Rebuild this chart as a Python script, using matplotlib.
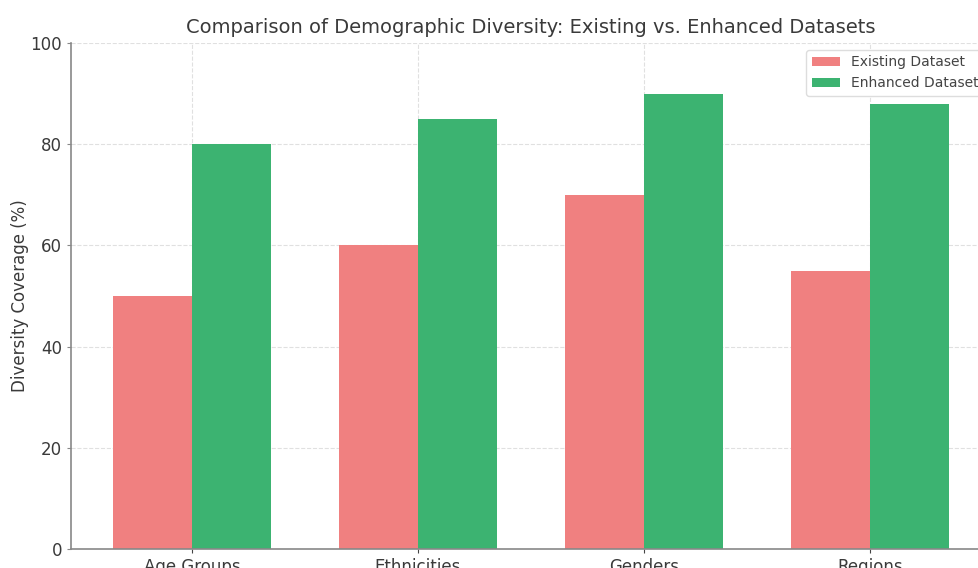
import numpy as np
import matplotlib.pyplot as plt

categories = ['Age Groups', 'Ethnicities', 'Genders', 'Regions']
existing = [50, 60, 70, 55]
enhanced = [80, 85, 90, 88]

BAR_WIDTH = 0.35

x = np.arange(len(categories))

fig = plt.figure(figsize=(9.79, 5.68), dpi=100)
ax = fig.add_axes([0.0725, 0.0335, 0.9397, 0.8908])

ax.bar(x - BAR_WIDTH / 2, existing, BAR_WIDTH, color='lightcoral', label='Existing Dataset')
ax.bar(x + BAR_WIDTH / 2, enhanced, BAR_WIDTH, color='mediumseagreen', label='Enhanced Dataset')

ax.set_title('Comparison of Demographic Diversity: Existing vs. Enhanced Datasets',
             fontsize=14, color='#3a3a3a', pad=7)
ax.set_ylabel('Diversity Coverage (%)', fontsize=12, color='#3a3a3a', labelpad=1)
ax.set_xticks(x)
ax.set_xticklabels(categories, fontsize=12, color='#3a3a3a')
ax.set_ylim(0, 100)
ax.set_yticks(np.arange(0, 101, 20))
ax.tick_params(axis='y', labelsize=12, labelcolor='#3a3a3a', length=3, color='#888888')
ax.tick_params(axis='x', length=3, color='#444444')

ax.grid(True, linestyle='--', color='#e0e0e0', linewidth=0.8)
ax.set_axisbelow(True)
for side in ['top', 'right']:
    ax.spines[side].set_visible(False)
for side in ['left', 'bottom']:
    ax.spines[side].set_color('#888888')
    ax.spines[side].set_linewidth(1.2)

ax.legend(loc='upper right', fontsize=10, labelcolor='#444444', framealpha=1,
          edgecolor='#dddddd')

fig.savefig('out.png', dpi=100)
